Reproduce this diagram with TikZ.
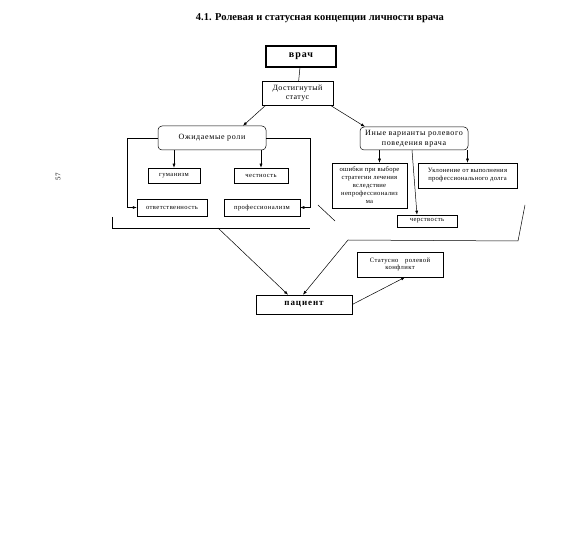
\documentclass[tikz,border=0pt]{standalone}
\usepackage{fontspec}
\setmainfont{Liberation Serif}
\usetikzlibrary{arrows.meta}

\begin{document}
\begin{tikzpicture}[x=1pt, y=-1pt, line width=0.5pt,
  box/.style={draw, align=center, inner sep=1pt, font=\fontsize{6.6}{7.6}\selectfont\addfontfeature{LetterSpace=6}},
  rbox/.style={box, rounded corners=4pt, font=\fontsize{8}{9.5}\selectfont\addfontfeature{LetterSpace=8}},
  arr/.style={-{Latex[length=4pt,width=3pt]}}]
\useasboundingbox (0,0) rectangle (582,548);
\node (title) at (320,18) {\fontsize{10.5}{12}\selectfont\bfseries 4.1. Ролевая и статусная концепции личности врача};
\node[rotate=90, font=\fontsize{7}{8}\selectfont] (page) at (58,177) {57};
% top of the scheme
\node[box, line width=1.3pt, minimum width=70pt, minimum height=21pt, font=\fontsize{10}{11}\selectfont\bfseries\addfontfeature{LetterSpace=10}] (vrach) at (301,56.5) {врач};
\node[box, minimum width=71pt, minimum height=24pt, font=\fontsize{8}{9.5}\selectfont\addfontfeature{LetterSpace=5}] (status) at (297.5,93) {Достигнутый\\статус};
\node[rbox, minimum width=108pt, minimum height=24pt] (ozhid) at (212,138) {Ожидаемые роли};
\node[rbox, minimum width=108pt, minimum height=23pt] (inye) at (414,138.5) {Иные варианты ролевого\\поведения врача};
% expected roles
\node[box, minimum width=52pt, minimum height=15pt] (gum) at (174,175.5) {гуманизм};
\node[box, minimum width=54pt, minimum height=15pt] (chest) at (261,175.5) {честность};
\node[box, minimum width=70pt, minimum height=17pt] (otv) at (172,207.5) {ответственность};
\node[box, minimum width=76pt, minimum height=17pt] (prof) at (262,207.5) {профессионализм};
% other variants
\node[box, minimum width=75pt, minimum height=45pt, font=\fontsize{6.6}{8}\selectfont\addfontfeature{LetterSpace=4}] (osh) at (369.5,185.5) {ошибки при выборе\\стратегии лечения\\вследствие\\непрофессионализ\\ма};
\node[box, minimum width=99pt, minimum height=25pt, font=\fontsize{6.6}{8}\selectfont\addfontfeature{LetterSpace=4}] (uklon) at (467.5,175.5) {Уклонение от выполнения\\профессионального долга};
\node[box, minimum width=60pt, minimum height=12pt] (cherst) at (427,221) {черствость};
% bottom
\node[box, minimum width=96pt, minimum height=19pt, font=\fontsize{9}{10}\selectfont\bfseries\addfontfeature{LetterSpace=10}] (pac) at (304,304.5) {пациент};
\node[box, minimum width=86pt, minimum height=25pt] (konf) at (400,264.5) {Статусно\quad ролевой\\конфликт};
% brackets
\coordinate (lb1) at (112,217);
\coordinate (lb2) at (112,228);
\coordinate (lb3) at (310,228);
\coordinate (lbm) at (218,228);
\coordinate (rb0) at (318,205);
\coordinate (rb1) at (335,221);
\coordinate (rb2) at (348,240);
\coordinate (rb3) at (518,241);
\coordinate (rb4) at (525,205);
\draw (lb1) -- (lb2) -- (lb3);
\draw (rb0) -- (rb1);
\draw (rb2) -- (rb3) -- (rb4);
% connectors
\draw (vrach) -- (status);
\draw[arr] ([xshift=4pt]status.south west) -- ([xshift=31pt]ozhid.north);
\draw[arr] ([xshift=-3pt]status.south east) -- ([xshift=-49pt]inye.north);
\draw[arr] (gum.north |- ozhid.south) -- (gum.north);
\draw[arr] (chest.north |- ozhid.south) -- (chest.north);
\draw[arr] (ozhid.west) -- ++(-31,0) |- (otv.west);
\draw[arr] (ozhid.east) -- ++(44,0) |- (prof.east);
\draw[arr] ([xshift=10pt]osh.north |- inye.south) -- ([xshift=10pt]osh.north);
\draw[arr] (uklon.north |- inye.south) -- (uklon.north);
\draw[arr] ([xshift=-2pt]inye.south) -- ([xshift=-10pt]cherst.north);
\draw[arr] (lbm) -- ([xshift=-16pt]pac.north);
\draw[arr] (rb2) -- ([xshift=-1pt]pac.north);
\draw[arr] (pac.east) -- ([xshift=5pt]konf.south);
\end{tikzpicture}
\end{document}
